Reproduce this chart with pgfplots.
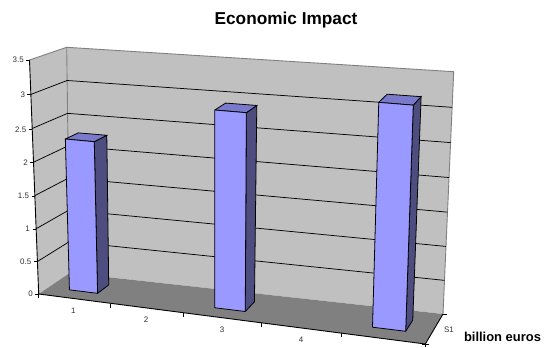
\documentclass[border=0pt]{standalone}
\usepackage{fontspec}
\setmainfont{Liberation Sans}
\usepackage{pgfplots}
\pgfplotsset{compat=1.18}
\definecolor{wallgray}{HTML}{C0C0C0}
\definecolor{floorgray}{HTML}{808080}
\definecolor{edgegray}{HTML}{808080}
\definecolor{barfront}{HTML}{9999FF}
\definecolor{barside}{HTML}{4D4D80}
\definecolor{bartop}{HTML}{7A7ACC}
\definecolor{ticktext}{HTML}{303030}

% Scene coordinates: \u = category position (0..5), \v = depth (0..1), \z = value (0..3.5).
% Screen position comes from the eight corners of the chart box.
\pgfplotsset{
  scene/.style={
    declare function={
      wu(\u)=(\u/5)*(1-0.098)/(1-0.098*\u/5);
      wz(\z)=(\z/3.5)*(1-0.033)/(1-0.033*\z/3.5);
      lerp(\a,\b,\t)=\a+(\b-\a)*\t;
      px(\u,\v,\z)=lerp(
        lerp(lerp(38.7,425.3,wu(\u)),lerp(69.7,443.0,wu(\u)),\v),
        lerp(lerp(29.5,434.0,wu(\u)),lerp(66.7,453.7,wu(\u)),\v),wz(\z));
      py(\u,\v,\z)=lerp(
        lerp(lerp(294.0,344.0,wu(\u)),lerp(273.0,314.0,wu(\u)),\v),
        lerp(lerp(60.0,94.0,wu(\u)),lerp(47.3,71.7,wu(\u)),\v),wz(\z));
    }
  },
  piece/.style={mark=none,
    /pgfplots/table/x expr={px(\thisrow{u},\thisrow{v},\thisrow{z})},
    /pgfplots/table/y expr={py(\thisrow{u},\thisrow{v},\thisrow{z})},
    /pgfplots/table/row sep=\\}
}

% A column: left and right category positions, then its value.
\newcommand{\columnbox}[3]{%
  \addplot[piece,fill=barside,draw=black,line width=0.8pt] table {
    u v z\\ #2 0.32 0\\ #2 0.7 0\\ #2 0.7 #3\\ #2 0.32 #3\\ #2 0.32 0\\};
  \addplot[piece,fill=bartop,draw=black,line width=0.8pt] table {
    u v z\\ #1 0.32 #3\\ #2 0.32 #3\\ #2 0.7 #3\\ #1 0.7 #3\\ #1 0.32 #3\\};
  \addplot[piece,fill=barfront,draw=black,line width=0.8pt] table {
    u v z\\ #1 0.32 0\\ #2 0.32 0\\ #2 0.32 #3\\ #1 0.32 #3\\ #1 0.32 0\\};
}
% One value gridline running along the side wall and the back wall.
\newcommand{\gridrun}[1]{%
  \addplot[piece,black,line width=0.75pt] table {
    u v z\\ 0 0 #1\\ 0 1 #1\\ 5 1 #1\\};
}
\newcommand{\sizedtext}[1]{\fontsize{#1}{#1}\selectfont}

\begin{document}
\begin{tikzpicture}
\begin{axis}[
  scene, scale only axis, width=544bp, height=347bp,
  xmin=0, xmax=544, ymin=0, ymax=347, y dir=reverse,
  hide axis, clip=false]

% walls and floor
\addplot[piece,fill=wallgray,draw=none] table {
  u v z\\ 0 0 0\\ 0 1 0\\ 0 1 3.5\\ 0 0 3.5\\ 0 0 0\\};
\addplot[piece,fill=wallgray,draw=none] table {
  u v z\\ 0 1 0\\ 5 1 0\\ 5 1 3.5\\ 0 1 3.5\\ 0 1 0\\};
\addplot[piece,fill=floorgray,draw=none] table {
  u v z\\ 0 0 0\\ 5 0 0\\ 5 1 0\\ 0 1 0\\ 0 0 0\\};

% outline of the walls
\addplot[piece,edgegray,line width=0.9pt] table {
  u v z\\ 0 0 3.5\\ 0 1 3.5\\ 5 1 3.5\\ 5 1 0\\};
\addplot[piece,edgegray,line width=0.9pt] table {
  u v z\\ 0 1 3.5\\ 0 1 0\\};

% gridlines
\gridrun{0.5}\gridrun{1}\gridrun{1.5}\gridrun{2}\gridrun{2.5}\gridrun{3}

% axis lines
\addplot[piece,black,line width=0.9pt] table {
  u v z\\ 0 0 3.5\\ 0 0 0\\ 5 0 0\\ 5 1 0\\};

% tick marks
\draw[black,line width=0.7pt]
  (axis cs:26,60)--(axis cs:29.5,60)
  (axis cs:27.2,94.3)--(axis cs:30.7,94.3)
  (axis cs:28.5,129.3)--(axis cs:32,129.3)
  (axis cs:30,162.7)--(axis cs:33.5,162.7)
  (axis cs:31.5,196)--(axis cs:35,196)
  (axis cs:32.5,229.3)--(axis cs:36,229.3)
  (axis cs:34,261.7)--(axis cs:37.5,261.7)
  (axis cs:35.2,294)--(axis cs:38.7,294)
  (axis cs:38.7,294)--(axis cs:38.7,298)
  (axis cs:110,303.5)--(axis cs:110,307.5)
  (axis cs:183.5,313)--(axis cs:183.5,317)
  (axis cs:261,323)--(axis cs:261,327)
  (axis cs:341.3,333)--(axis cs:341.3,337)
  (axis cs:425.3,344)--(axis cs:425.3,346.8)
  (axis cs:421.8,344)--(axis cs:428.8,344)
  (axis cs:443,314)--(axis cs:446.5,314);

% columns
\columnbox{0.3}{0.7}{2.3}
\columnbox{2.3}{2.7}{2.92}
\columnbox{4.3}{4.7}{3.22}

% value labels
\begin{scope}[every node/.style={text=ticktext,font=\sizedtext{8},inner sep=0pt}]
\node[anchor=east] at (axis cs:24,60) {3.5};
\node[anchor=east] at (axis cs:25.3,94.7) {3};
\node[anchor=east] at (axis cs:26.5,130) {2.5};
\node[anchor=east] at (axis cs:28,163) {2};
\node[anchor=east] at (axis cs:29.2,196) {1.5};
\node[anchor=east] at (axis cs:30,229) {1};
\node[anchor=east] at (axis cs:31.5,262) {0.5};
\node[anchor=east] at (axis cs:33,294) {0};
\node at (axis cs:73.3,311) {1};
\node at (axis cs:146,320) {2};
\node at (axis cs:222,330) {3};
\node at (axis cs:301,340) {4};
\node at (axis cs:449,329.3) {S1};
\end{scope}

\node[font=\sizedtext{17.3}\bfseries,inner sep=0pt,black] at (axis cs:286,20) {Economic Impact};
\node[font=\sizedtext{13}\bfseries,inner sep=0pt,black] at (axis cs:502.5,337) {billion euros};
\end{axis}
\path (0,0) rectangle (544bp,347bp);
\end{tikzpicture}
\end{document}
